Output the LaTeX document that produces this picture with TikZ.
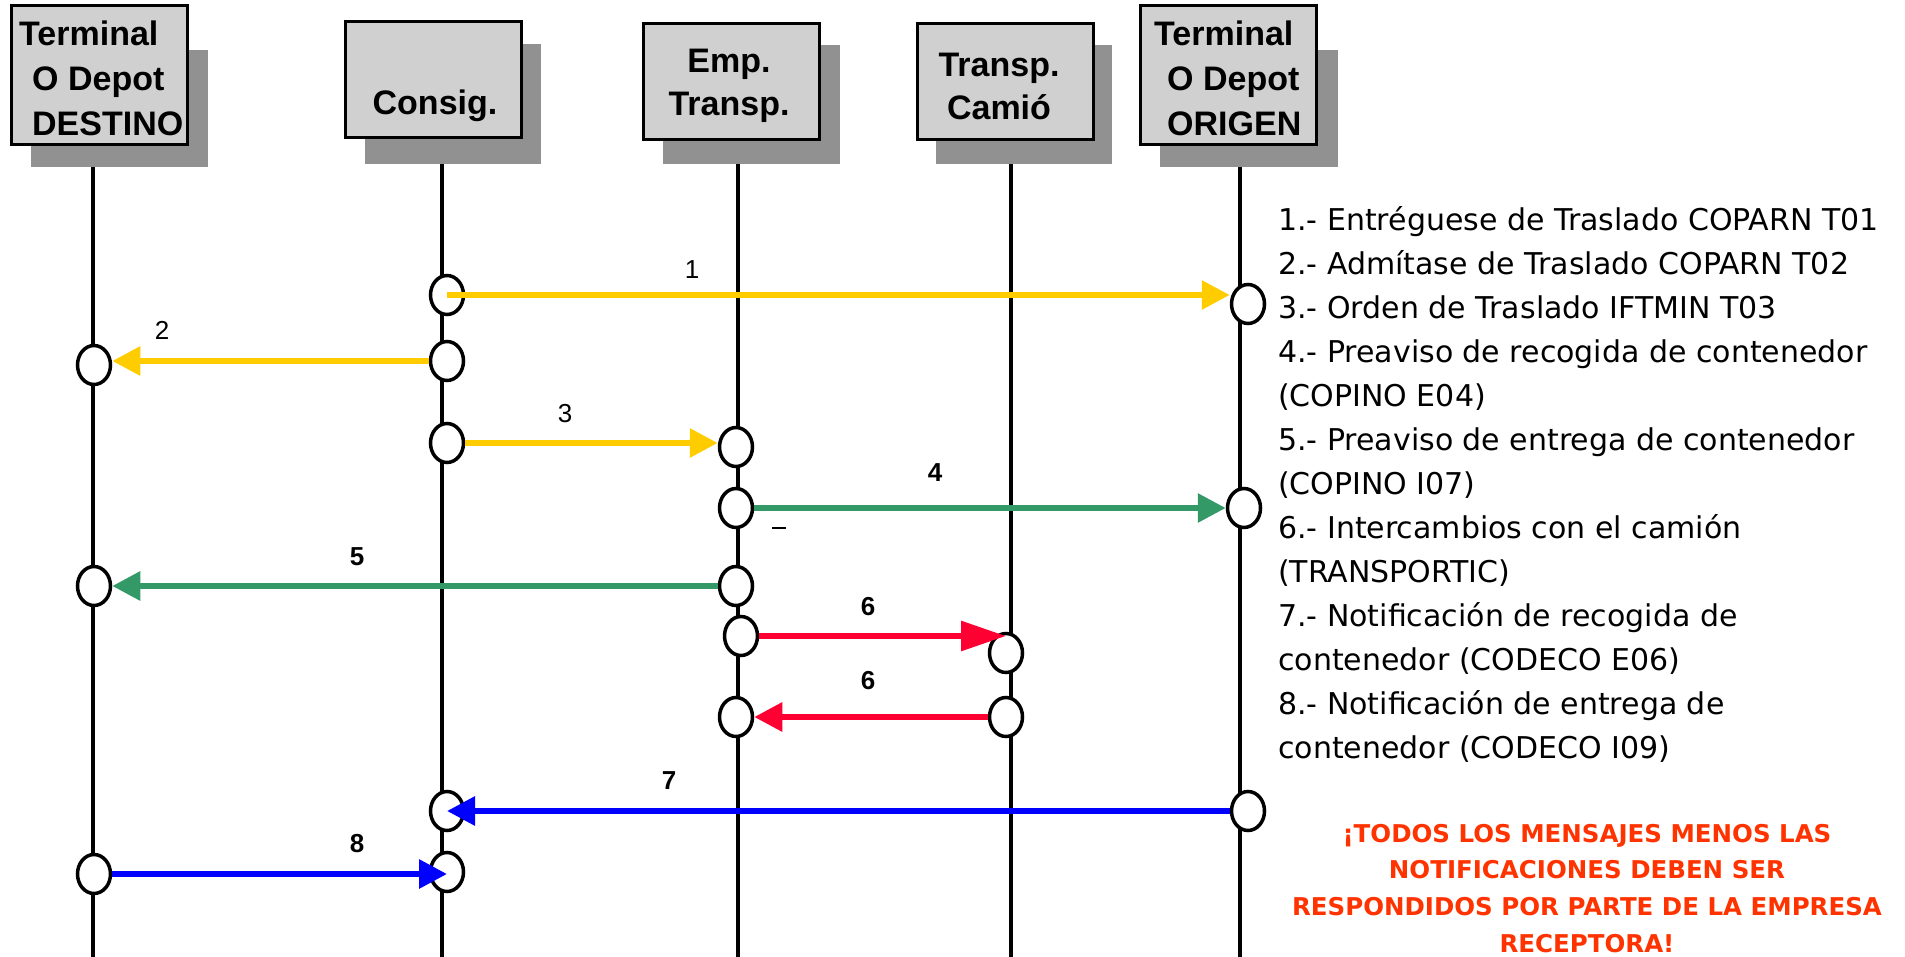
\documentclass[tikz,border=0pt]{standalone}
\usepackage{fontspec}
\setmainfont{Liberation Sans}
\newfontfamily\listfont{DejaVu Sans}
\usetikzlibrary{arrows.meta,shapes.geometric}

\definecolor{boxgray}{HTML}{D0D0D0}
\definecolor{shadowgray}{HTML}{919191}
\definecolor{msgyellow}{HTML}{FFCC00}
\definecolor{msggreen}{HTML}{339966}
\definecolor{msgred}{HTML}{FF0033}
\definecolor{msgblue}{HTML}{0000FF}
\definecolor{notered}{HTML}{FF3300}

\begin{document}
\begin{tikzpicture}[x=1pt,y=-1pt,
	hdr/.style={draw,line width=3pt,fill=boxgray,inner sep=0pt,minimum width=176pt},
	hdrtxt/.style={font=\fontsize{34}{45}\selectfont\bfseries,align=left,inner sep=0pt},
	tick/.style={ellipse,draw,line width=3.5pt,fill=white,minimum width=33pt,minimum height=39pt,inner sep=0pt},
	msg/.style={line width=6pt,-{Triangle[length=28pt,width=28pt]}},
	num/.style={font=\fontsize{26}{26}\selectfont,inner sep=0pt},
	life/.style={line width=3.5pt}]
	
	\useasboundingbox (0,0) rectangle (1905,957);
	
	% shadows
	\fill[shadowgray] (31,50) rectangle (208,167);
	\fill[shadowgray] (365,44) rectangle (541,164);
	\fill[shadowgray] (663,45) rectangle (840,164);
	\fill[shadowgray] (936,45) rectangle (1112,164);
	\fill[shadowgray] (1160,50) rectangle (1338,167);
	
	% lifelines
	\foreach \x/\t in {93/167, 442/164, 738/164, 1011/164, 1240/167}{
		\draw[life] (\x,\t) -- (\x,957);
	}
	
	% boxes
	\node[hdr,minimum height=139pt] (dest) at (99,75.5) {};
	\node[hdr,minimum height=116pt] (consig) at (433.5,80) {};
	\node[hdr,minimum height=116pt] (emp) at (731,82) {};
	\node[hdr,minimum height=116pt] (camion) at (1005,82) {};
	\node[hdr,minimum height=139pt] (orig) at (1228,75.5) {};
	
	\node[hdrtxt,anchor=north west] (desttxt) at (19,21) {Terminal\\\hspace*{13pt}O Depot\\\hspace*{13pt}DESTINO};
	\node[hdrtxt] (consigtxt) at (435,106) {Consig.};
	\node[hdrtxt,align=center,font=\fontsize{34}{43}\selectfont\bfseries] (emptxt) at (729,86) {Emp.\\Transp.};
	\node[hdrtxt,align=center,font=\fontsize{34}{43}\selectfont\bfseries] (camiontxt) at (999,86) {Transp.\\Camió};
	\node[hdrtxt,anchor=north west] (origtxt) at (1154,21) {Terminal\\\hspace*{13pt}O Depot\\\hspace*{13pt}ORIGEN};
	
	% ticks on the lifelines
	\node[tick] (c1s) at (447,295) {};
	\node[tick] (c1r) at (1248,304) {};
	\node[tick] (c2s) at (447,361) {};
	\node[tick] (c2r) at (94,365) {};
	\node[tick] (c3s) at (447,443) {};
	\node[tick] (c3r) at (736,447) {};
	\node[tick] (c4s) at (736,508) {};
	\node[tick] (c4r) at (1244,508) {};
	\node[tick] (c5s) at (736,586) {};
	\node[tick] (c5r) at (94,586) {};
	\node[tick] (c6s) at (741,636) {};
	\node[tick] (c6r) at (1006,653) {};
	\node[tick] (c6bs) at (1006,717) {};
	\node[tick] (c6br) at (736,717) {};
	\node[tick] (c7s) at (1248,811) {};
	\node[tick] (c7r) at (447,811) {};
	\node[tick] (c8s) at (94,874) {};
	\node[tick] (c8r) at (447,872) {};
	
	% messages
	\draw[msg,msgyellow] (c1s.center) -- (c1s.center -| c1r.west);
	\draw[msg,msgyellow] (c2s.west) -- (c2s.west -| c2r.east);
	\draw[msg,msgyellow] (c3s.east) -- (c3s.east -| c3r.west);
	\draw[msg,msggreen] (c4s.east) -- (c4s.east -| c4r.west);
	\draw[msg,msggreen] (c5s.west) -- (c5s.west -| c5r.east);
	\draw[msg,msgred,-{Triangle[length=45pt,width=29pt]}] (c6s.east) -- (c6s.east -| c6r.north);
	\draw[msg,msgred] (c6bs.west) -- (c6bs.west -| c6br.east);
	\draw[msg,msgblue] (c7s.west) -- (c7s.west -| c7r.center);
	\draw[msg,msgblue] (c8s.east) -- (c8s.east -| c8r.center);
	
	\node[num] (l1) at (692,270) {1};
	\node[num] (l2) at (162,330) {2};
	\node[num] (l3) at (565,414) {3};
	\node[num,font=\fontsize{26}{26}\selectfont\bfseries] (l4) at (935,473) {4};
	\node[num,font=\fontsize{26}{26}\selectfont\bfseries] (l5) at (357,557) {5};
	\node[num,font=\fontsize{26}{26}\selectfont\bfseries] (l6a) at (868,607) {6};
	\node[num,font=\fontsize{26}{26}\selectfont\bfseries] (l6b) at (868,681) {6};
	\node[num,font=\fontsize{26}{26}\selectfont\bfseries] (l7) at (669,781) {7};
	\node[num,font=\fontsize{26}{26}\selectfont\bfseries] (l8) at (357,844) {8};
	\node[inner sep=0pt] (dash) at (779,528) {\rule{14pt}{1.2pt}};
	
	% legend
	\node[anchor=north west,align=left,inner sep=0pt,font=\listfont\fontsize{30}{44}\selectfont] (legend) at (1278,206) {1.- Entréguese de Traslado COPARN T01\\
		2.- Admítase de Traslado COPARN T02\\
		3.- Orden de Traslado IFTMIN T03\\
		4.- Preaviso de recogida de contenedor\\
		(COPINO E04)\\
		5.- Preaviso de entrega de contenedor\\
		(COPINO I07)\\
		6.- Intercambios con el camión\\
		(TRANSPORTIC)\\
		7.- Notificación de recogida de\\
		contenedor (CODECO E06)\\
		8.- Notificación de entrega de\\
		contenedor (CODECO I09)};
	\node[anchor=north,align=center,inner sep=0pt,text=notered,font=\listfont\bfseries\fontsize{24.5}{36.6}\selectfont] (note) at (1587,824) {¡TODOS LOS MENSAJES MENOS LAS\\
		NOTIFICACIONES DEBEN SER\\
		RESPONDIDOS POR PARTE DE LA EMPRESA\\
		RECEPTORA!};
	
\end{tikzpicture}
\end{document}
